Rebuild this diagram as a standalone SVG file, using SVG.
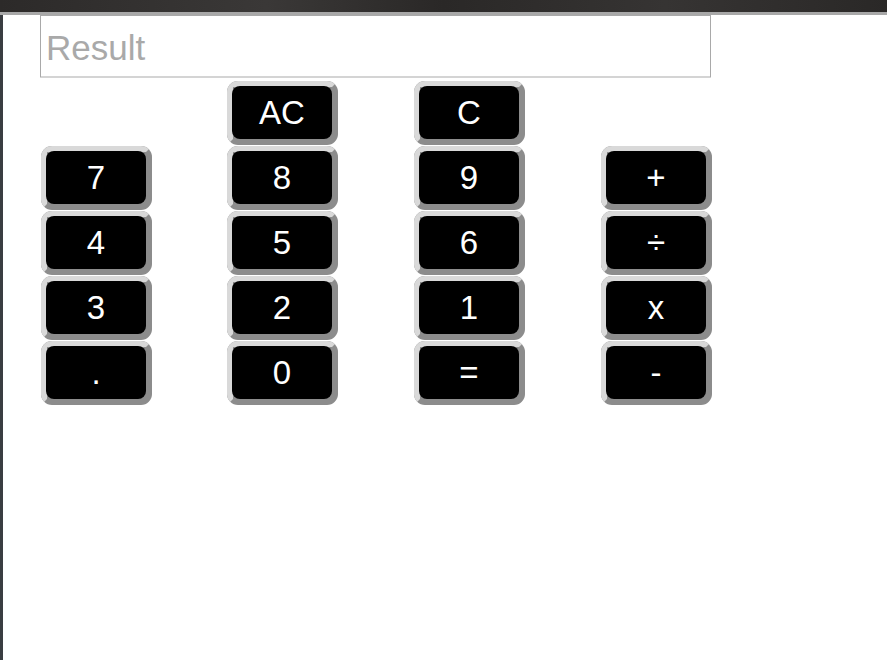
<svg xmlns="http://www.w3.org/2000/svg" xmlns:xlink="http://www.w3.org/1999/xlink" width="887" height="660" viewBox="0 0 887 660">
<style>
.lbl{font-family:"Liberation Sans",Arial,sans-serif;font-size:33px;fill:#ffffff;text-anchor:middle}
.ph{font-family:"Liberation Sans",Arial,sans-serif;font-size:35px;fill:#a9a9a9}
</style>
<defs>
<linearGradient id="topg" x1="0" y1="0" x2="1" y2="0">
<stop offset="0" stop-color="#2c2a29"/>
<stop offset="0.3" stop-color="#3a3837"/>
<stop offset="0.5" stop-color="#2a2827"/>
<stop offset="0.75" stop-color="#363433"/>
<stop offset="1" stop-color="#2a2827"/>
</linearGradient>
<clipPath id="bclip"><rect x="0" y="0" width="111" height="64" rx="11" ry="11"/></clipPath>
<g id="btn">
<g clip-path="url(#bclip)">
<rect x="0" y="0" width="111" height="64" fill="#8c8c8c"/>
<polygon points="0,0 111,0 105,6 6,6 6,58 0,64" fill="#d9d9d9"/>
</g>
<rect x="5" y="5" width="100" height="53" rx="8" ry="8" fill="#000000"/>
</g>
</defs>
<rect x="0" y="0" width="887" height="660" fill="#ffffff"/>
<g id="chrome">
<rect x="0" y="0" width="887" height="12" fill="url(#topg)"/>
<rect x="0" y="12" width="887" height="3" fill="#a8a8a8"/>
<rect x="0" y="15" width="3" height="645" fill="#3a3d41"/>
</g>
<g id="result">
<rect x="40.5" y="15.5" width="670" height="61.5" fill="#ffffff" stroke="#a9a9a9" stroke-width="1"/>
<text class="ph" x="46" y="60">Result</text>
</g>
<g id="connectors"/>
<g id="btn-ac"><use xlink:href="#btn" x="227" y="81"/><text class="lbl" x="282" y="124">AC</text></g>
<g id="btn-c"><use xlink:href="#btn" x="414" y="81"/><text class="lbl" x="469" y="124">C</text></g>
<g id="btn-7"><use xlink:href="#btn" x="41" y="146"/><text class="lbl" x="96" y="189">7</text></g>
<g id="btn-8"><use xlink:href="#btn" x="227" y="146"/><text class="lbl" x="282" y="189">8</text></g>
<g id="btn-9"><use xlink:href="#btn" x="414" y="146"/><text class="lbl" x="469" y="189">9</text></g>
<g id="btn-plus"><use xlink:href="#btn" x="601" y="146"/><text class="lbl" x="656" y="189">+</text></g>
<g id="btn-4"><use xlink:href="#btn" x="41" y="211"/><text class="lbl" x="96" y="254">4</text></g>
<g id="btn-5"><use xlink:href="#btn" x="227" y="211"/><text class="lbl" x="282" y="254">5</text></g>
<g id="btn-6"><use xlink:href="#btn" x="414" y="211"/><text class="lbl" x="469" y="254">6</text></g>
<g id="btn-div"><use xlink:href="#btn" x="601" y="211"/><text class="lbl" x="656" y="254">÷</text></g>
<g id="btn-3"><use xlink:href="#btn" x="41" y="276"/><text class="lbl" x="96" y="319">3</text></g>
<g id="btn-2"><use xlink:href="#btn" x="227" y="276"/><text class="lbl" x="282" y="319">2</text></g>
<g id="btn-1"><use xlink:href="#btn" x="414" y="276"/><text class="lbl" x="469" y="319">1</text></g>
<g id="btn-mul"><use xlink:href="#btn" x="601" y="276"/><text class="lbl" x="656" y="319">x</text></g>
<g id="btn-dot"><use xlink:href="#btn" x="41" y="341"/><text class="lbl" x="96" y="384">.</text></g>
<g id="btn-0"><use xlink:href="#btn" x="227" y="341"/><text class="lbl" x="282" y="384">0</text></g>
<g id="btn-eq"><use xlink:href="#btn" x="414" y="341"/><text class="lbl" x="469" y="384">=</text></g>
<g id="btn-minus"><use xlink:href="#btn" x="601" y="341"/><text class="lbl" x="656" y="384">-</text></g>
</svg>
